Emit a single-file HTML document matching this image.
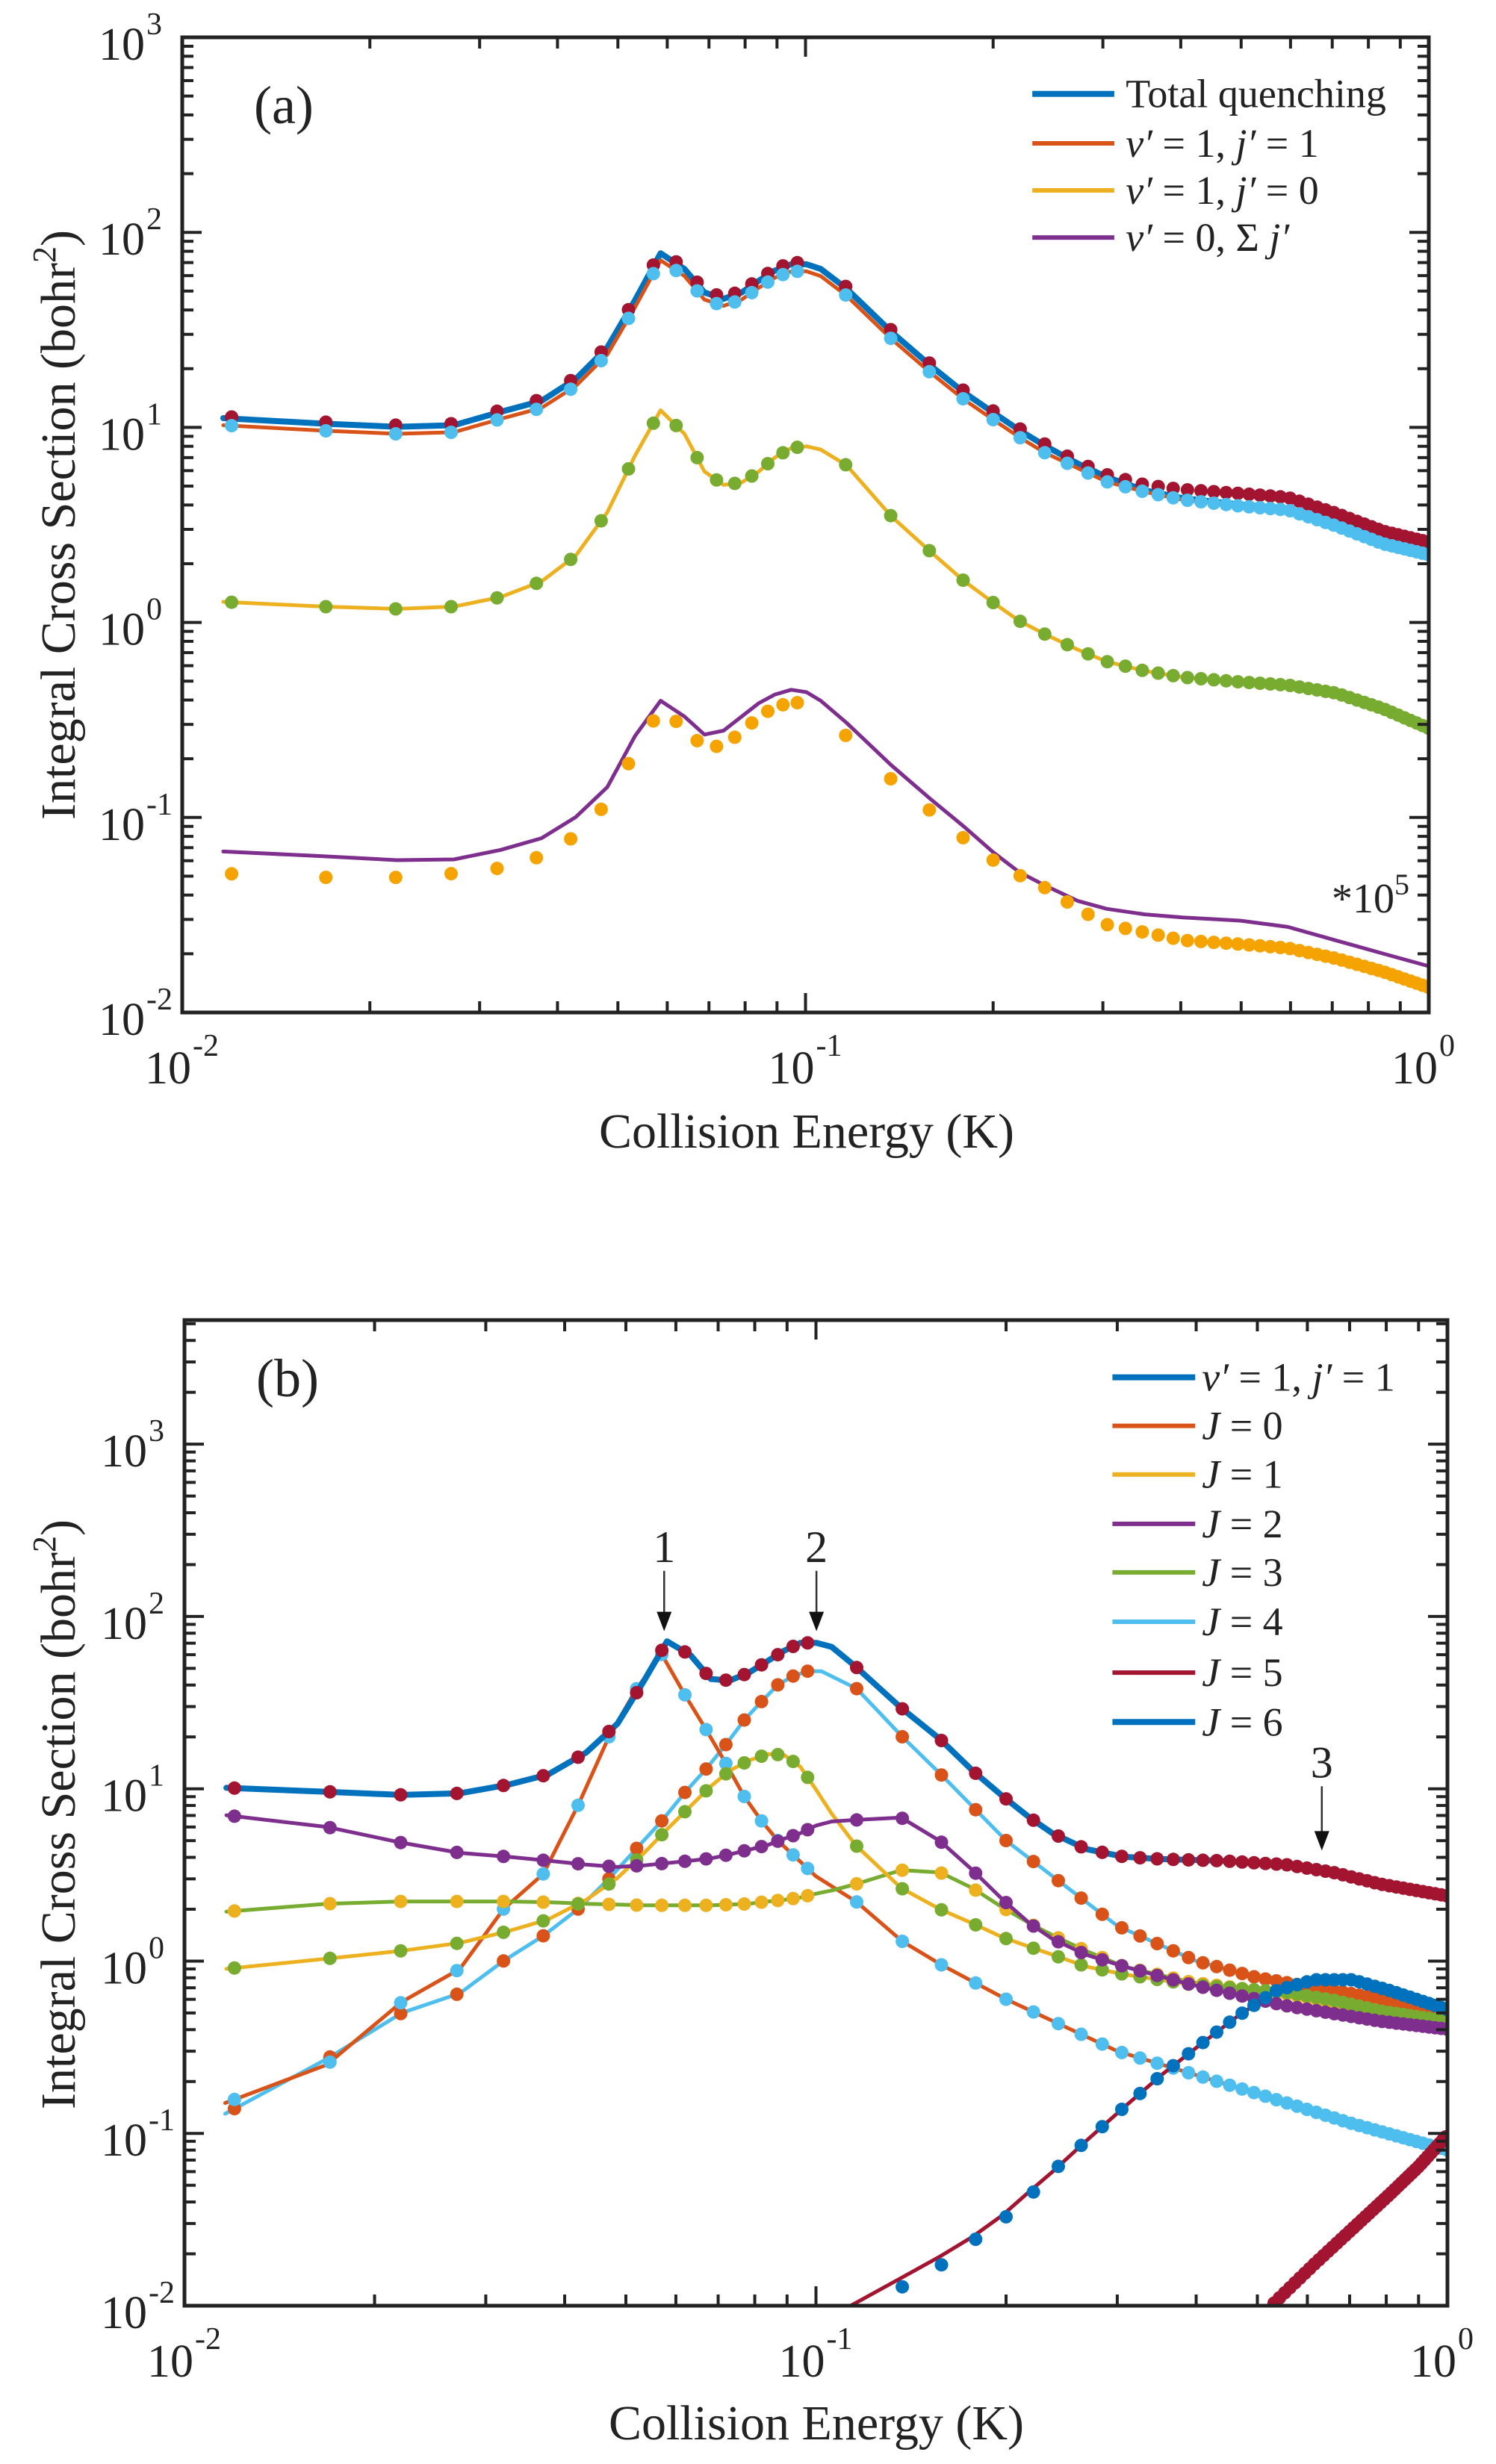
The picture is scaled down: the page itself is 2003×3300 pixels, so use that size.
<!DOCTYPE html>
<html><head><meta charset="utf-8"><style>
html,body{margin:0;padding:0;background:#fff;}
svg{display:block;}
text{font-family:"Liberation Serif",serif;fill:#222;}
</style></head><body>
<svg id="s" width="2003" height="3300" viewBox="0 0 2003 3300" xmlns="http://www.w3.org/2000/svg">
<defs>
<clipPath id="ca"><rect x="244" y="50" width="1669" height="1306"/></clipPath>
<clipPath id="cb"><rect x="247" y="1768" width="1691" height="1320"/></clipPath>
</defs>
<g id="ga" clip-path="url(#ca)"></g>
<g id="gb" clip-path="url(#cb)"></g>
<g id="axes"></g>
<text x="340" y="165" font-size="72">(a)</text>
<text x="1080" y="1537" font-size="66" text-anchor="middle">Collision Energy (K)</text>
<text transform="translate(100,703) rotate(-90)" font-size="66" text-anchor="middle">Integral Cross Section (bohr<tspan dy="-26" font-size="44">2</tspan><tspan dy="26">)</tspan></text>
<text x="1835" y="1222" font-size="56" text-anchor="middle">*10<tspan dy="-24" font-size="40">5</tspan></text>
<text x="343" y="1870" font-size="72">(b)</text>
<text x="1093" y="3267" font-size="66" text-anchor="middle">Collision Energy (K)</text>
<text transform="translate(100,2430) rotate(-90)" font-size="66" text-anchor="middle">Integral Cross Section (bohr<tspan dy="-26" font-size="44">2</tspan><tspan dy="26">)</tspan></text>
<g id="leg"></g>
</svg>
<script>
const NS="http://www.w3.org/2000/svg";
function el(p,t,a,txt){const e=document.createElementNS(NS,t);for(const k in a)e.setAttribute(k,a[k]);if(txt!==undefined)e.textContent=txt;p.appendChild(e);return e;}
const A={x:zx=>244+(zx-190)*1669/1308,y:zy=>50+(zy-45)*1306/1242,ze:le=>190+(le+2)*654};
const B={x:zx=>247+(zx-193)*1691/1327,y:zy=>1768+(zy-110)*1320/1258,ze:le=>193+(le+2)*663.5};
const C={blue:"#0072BD",red:"#D95319",yel:"#EDB120",pur:"#7E2F8E",grn:"#77AC30",cyan:"#4DBEEE",dred:"#A2142F"};
const E=[];for(let e=0.012;e<0.1;e+=0.005)E.push(e);for(let e=0.116;e<=1.0001;e+=0.021)E.push(e);E.push(1.0);
function interp(pts,zx){if(zx<pts[0][0]-1||zx>pts[pts.length-1][0]+1)return null;
 for(let i=0;i<pts.length-1;i++){const a=pts[i],b=pts[i+1];if(zx<=b[0]){const t=(zx-a[0])/(b[0]-a[0]);return a[1]+t*(b[1]-a[1]);}}return pts[pts.length-1][1];}
function shift(pts,f){return pts.map(p=>[p[0],p[1]+f(p[0])]);}
function line(g,M,pts,col,w){el(g,"polyline",{points:pts.map(p=>M.x(p[0]).toFixed(1)+","+M.y(p[1]).toFixed(1)).join(" "),fill:"none",stroke:col,"stroke-width":w,"stroke-linejoin":"round","stroke-linecap":"round"});}
function marks(g,M,pts,col,r){for(const e of E){const zx=M.ze(Math.log10(e));const zy=interp(pts,zx);if(zy===null)continue;el(g,"circle",{cx:M.x(zx).toFixed(1),cy:M.y(zy).toFixed(1),r:r,fill:col});}}
const ga=document.getElementById("ga"),gb=document.getElementById("gb");
const tot=[[233,530],[338,537],[415,541],[475,539],[524,522],[567,508],[603,480],[636,440],[665,380],[692,320],[717,340],[738,370],[758,378],[777,370],[795,355],[812,342],[829,334],[845,334],[860,340],[887,365],[934,420],[975,463],[1010,497],[1041,523],[1068,545],[1095,565],[1130,588],[1160,605],[1200,622],[1240,632],[1300,640],[1350,645],[1400,665],[1450,688],[1498,702]];
const v11=shift(tot,x=>x<1100?9:(x<1200?6:2));
const redm=shift(tot,x=>x<1150?-2:-2-Math.min(12,(x-1150)/10));
const y10=[[233,764],[338,770],[415,773],[475,770],[524,758],[567,738],[603,705],[636,650],[665,578],[692,520],[717,550],[738,598],[758,615],[777,612],[795,598],[812,580],[829,568],[845,566],[860,570],[887,590],[934,655],[975,700],[1010,737],[1041,765],[1068,788],[1095,805],[1130,825],[1160,840],[1200,852],[1240,860],[1300,866],[1350,870],[1400,880],[1450,900],[1498,925]];
const p0=[[233,1082],[338,1088],[415,1093],[475,1092],[524,1080],[567,1065],[603,1038],[636,1000],[665,935],[692,890],[717,910],[738,933],[758,928],[777,910],[795,893],[812,882],[829,876],[845,879],[860,890],[887,918],[934,972],[975,1015],[1010,1050],[1041,1083],[1068,1108],[1095,1125],[1130,1145],[1160,1155],[1200,1162],[1240,1166],[1300,1170],[1350,1178],[1400,1195],[1450,1212],[1498,1228]];
const p0m=[[233,1110],[338,1115],[415,1115],[475,1110],[524,1103],[567,1088],[603,1062],[636,1020],[665,955],[692,900],[717,925],[738,950],[758,947],[777,930],[795,910],[812,898],[829,892],[845,893],[860,905],[887,935],[934,990],[975,1030],[1010,1065],[1041,1093],[1068,1112],[1095,1128],[1130,1155],[1160,1175],[1200,1185],[1240,1195],[1300,1200],[1350,1205],[1400,1218],[1450,1235],[1498,1255]];
line(ga,A,tot,C.blue,8);line(ga,A,v11,C.red,5);
marks(ga,A,redm,C.dred,9);marks(ga,A,v11,C.cyan,9);
line(ga,A,y10,C.yel,5);marks(ga,A,y10,C.grn,9);
line(ga,A,p0,C.pur,5);marks(ga,A,p0m,"#F5A300",9);
// Panel b
const L=arr=>arr.map(([e,s])=>[193+(Math.log10(e)+2)*663.5,268+(3-Math.log10(s))*220]);
const bv=[[237,707],[343,712],[421,716],[482,714],[533,703],[575,690],[615,662],[648,625],[676,570],[700,520],[725,538],[746,568],[766,570],[786,560],[806,545],[823,532],[840,522],[857,522],[873,527],[898,552],[946,605],[987,645],[1021,685],[1053,718],[1081,745],[1105,765],[1140,785],[1180,795],[1220,798],[1280,800],[1350,805],[1400,815],[1450,830],[1520,845]];
const j0=L([[0.0116,0.15],[0.0168,0.25],[0.0221,0.58],[0.0273,0.9],[0.032,2.0],[0.037,3.2],[0.042,8],[0.047,20],[0.052,38],[0.057,60],[0.062,35],[0.067,22],[0.072,14],[0.077,9],[0.082,6.5],[0.087,5],[0.1,3.1],[0.116,2.2],[0.137,1.3],[0.158,0.95],[0.2,0.6],[0.3,0.3],[0.5,0.17],[0.7,0.115],[1.0,0.08]]);
const j4=L([[0.0116,0.13],[0.0168,0.27],[0.0221,0.5],[0.0273,0.65],[0.032,1.0],[0.037,1.4],[0.042,2.0],[0.047,3.0],[0.052,4.5],[0.057,6.5],[0.062,9.5],[0.067,13],[0.072,18],[0.077,25],[0.082,32],[0.087,40],[0.092,45],[0.097,48],[0.102,48],[0.116,38],[0.137,20],[0.158,12],[0.2,5],[0.3,1.6],[0.4,1.0],[0.5,0.8],[0.7,0.65],[1.0,0.5]]);
const j1=[[237,938],[343,925],[421,915],[482,905],[533,890],[575,875],[615,850],[648,822],[676,790],[700,760],[725,730],[746,705],[766,685],[786,672],[806,664],[823,665],[840,680],[857,710],[873,740],[898,780],[946,835],[987,862],[1021,880],[1053,898],[1081,910],[1105,920],[1140,935],[1180,945],[1250,958],[1350,968],[1400,978],[1450,992],[1520,1005]];
const j3=[[237,865],[343,855],[421,852],[482,852],[533,852],[575,853],[615,855],[648,856],[676,857],[700,857],[725,857],[746,857],[766,856],[786,855],[806,852],[823,850],[840,847],[857,842],[873,838],[898,830],[946,812],[987,815],[1021,835],[1053,860],[1081,880],[1105,895],[1140,915],[1180,935],[1250,955],[1350,970],[1420,985],[1520,1015]];
const j2=[[237,742],[343,757],[421,777],[482,790],[533,795],[575,800],[615,805],[648,808],[676,806],[700,803],[725,800],[746,797],[766,792],[786,786],[806,780],[823,772],[840,765],[857,755],[873,750],[898,748],[946,745],[987,775],[1021,812],[1053,850],[1081,880],[1105,900],[1140,920],[1180,935],[1250,958],[1350,985],[1450,1005],[1520,1015]];
const j5=[[880,1380],[893,1368],[950,1330],[987,1305],[1021,1280],[1053,1252],[1081,1222],[1105,1197],[1140,1158],[1180,1115],[1220,1073],[1260,1035],[1300,998],[1340,966],[1380,952],[1420,952],[1460,966],[1490,978],[1520,990]];
const j5m=shift(j5,x=>x<1000?12:(x<1100?6:0));
const j6=[[1320,1400],[1335,1368],[1380,1315],[1420,1270],[1460,1225],[1490,1190],[1520,1150]];
line(gb,B,j4,C.cyan,5);marks(gb,B,j4,C.red,9);
line(gb,B,j0,C.red,5);marks(gb,B,j0,C.cyan,9);
line(gb,B,j3,C.grn,5);marks(gb,B,j3,C.yel,9);
line(gb,B,j1,C.yel,5);marks(gb,B,j1,C.grn,9);
line(gb,B,j2,C.pur,5);marks(gb,B,j2,C.pur,9);
line(gb,B,j5,C.dred,5);marks(gb,B,j5m,C.blue,9);
line(gb,B,j5.filter(p=>p[0]>1340),C.blue,9);
line(gb,B,j6,C.dred,4);
(function(){for(let e=0.5;e<=1.0;e+=0.0105){const zx=B.ze(Math.log10(e));const zy=interp(j6,zx);if(zy!==null)el(gb,"circle",{cx:B.x(zx),cy:B.y(zy),r:9,fill:C.dred});}})();
line(gb,B,bv,C.blue,8);marks(gb,B,bv,C.dred,9);
const ax=document.getElementById("axes");
function arrow(zx,z1,z2,lab){const x=B.x(zx),y1=B.y(z1),y2=B.y(z2);el(ax,"line",{x1:x,y1:y1,x2:x,y2:y2-18,stroke:"#333","stroke-width":2.5});el(ax,"polygon",{points:`${x-10},${y2-26} ${x+10},${y2-26} ${x},${y2}`,fill:"#111"});el(ax,"text",{x:x,y:y1-12,"font-size":60,"text-anchor":"middle"},lab);}
arrow(697,430,507,"1");arrow(857,430,507,"2");arrow(1388,705,787,"3");
function axes(x0,x1,y0,y1,ylo,yhi){
 el(ax,"rect",{x:x0,y:y0,width:x1-x0,height:y1-y0,fill:"none",stroke:"#222","stroke-width":5});
 const xs=v=>x0+(Math.log10(v)+2)/2*(x1-x0);
 const ys=v=>y1-(Math.log10(v)-ylo)/(yhi-ylo)*(y1-y0);
 for(let d=-2;d<0;d++)for(let m=1;m<10;m++){const v=m*Math.pow(10,d);const X=xs(v);const L=m==1?26:15;
  if(m==1&&d==-2)continue;
  el(ax,"line",{x1:X,y1:y1,x2:X,y2:y1-L,stroke:"#222","stroke-width":4});
  el(ax,"line",{x1:X,y1:y0,x2:X,y2:y0+L,stroke:"#222","stroke-width":4});}
 for(let d=-2;d<=3;d++)for(let m=1;m<10;m++){const v=m*Math.pow(10,d);if(Math.log10(v)>yhi+1e-9)continue;const Y=ys(v);const L=m==1?26:15;
  el(ax,"line",{x1:x0,y1:Y,x2:x0+L,y2:Y,stroke:"#222","stroke-width":4});
  el(ax,"line",{x1:x1,y1:Y,x2:x1-L,y2:Y,stroke:"#222","stroke-width":4});}
 for(let d=-2;d<=3;d++){const Y=ys(Math.pow(10,d));el(ax,"text",{x:x0-50,y:Y+30,"font-size":62,"text-anchor":"end"},"10");el(ax,"text",{x:x0-48,y:Y-4,"font-size":42},String(d));}
 [-2,-1,0].forEach(d=>{const X=xs(Math.pow(10,d));el(ax,"text",{x:X+12,y:y1+95,"font-size":62,"text-anchor":"end"},"10");el(ax,"text",{x:X+14,y:y1+58,"font-size":42},String(d));});
}
axes(244,1913,50,1356,-2,3);
axes(247,1938,1768,3088,-2,3.72);
const lg=document.getElementById("leg");
function leg(M,x1,x2,tx,items){items.forEach(([zy,col,w,html])=>{const Y=M.y(zy);el(lg,"line",{x1:M.x(x1),y1:Y,x2:M.x(x2),y2:Y,stroke:col,"stroke-width":w});const t=el(lg,"text",{x:M.x(tx),y:Y+18,"font-size":54});t.innerHTML=html;});}
const V1="<tspan font-style='italic'>v′</tspan> = 1, <tspan font-style='italic'>j′</tspan> = ";
leg(A,1082,1168,1180,[[117,C.blue,8,"Total quenching"],[180,C.red,6,V1+"1"],[240,C.yel,6,V1+"0"],[300,C.pur,6,"<tspan font-style='italic'>v′</tspan> = 0, Σ <tspan font-style='italic'>j′</tspan>"]]);
const J=n=>"<tspan font-style='italic'>J</tspan> = "+n;
leg(B,1168,1255,1262,[[183,C.blue,8,V1+"1"],[245,C.red,6,J(0)],[307,C.yel,6,J(1)],[370,C.pur,6,J(2)],[432,C.grn,6,J(3)],[495,C.cyan,6,J(4)],[560,C.dred,6,J(5)],[623,C.blue,8,J(6)]]);
</script>
</body></html>
